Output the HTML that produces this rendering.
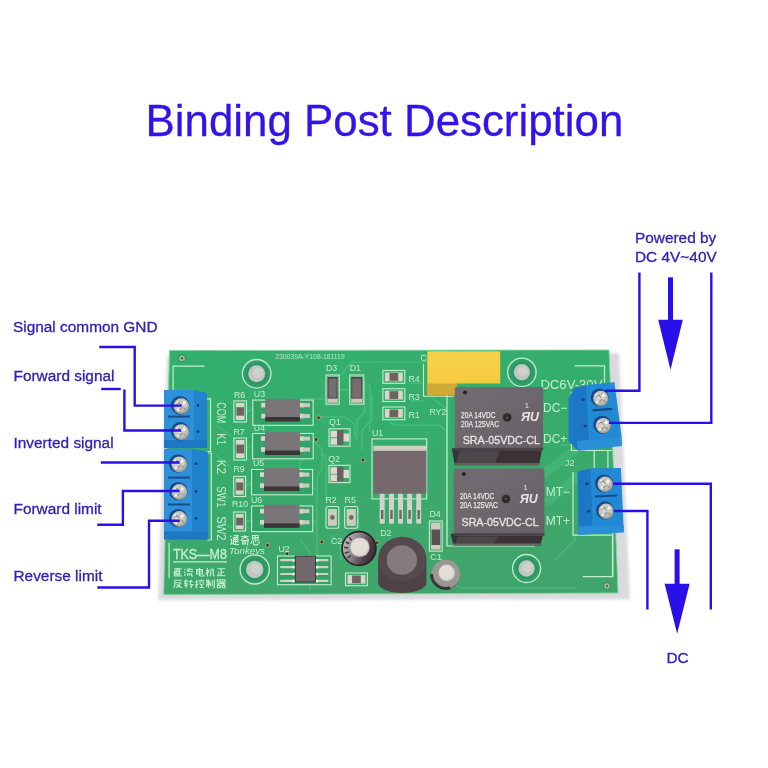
<!DOCTYPE html>
<html><head><meta charset="utf-8">
<style>
html,body{margin:0;padding:0;background:#fff;width:768px;height:768px;overflow:hidden}
svg{display:block;font-family:"Liberation Sans",sans-serif;will-change:transform}
</style></head><body>
<svg width="768" height="768" viewBox="0 0 768 768">
<defs>
  <radialGradient id="screw" cx="0.45" cy="0.4" r="0.65">
    <stop offset="0" stop-color="#e2e2dc"/>
    <stop offset="0.6" stop-color="#c2c2ba"/>
    <stop offset="1" stop-color="#8e8e88"/>
  </radialGradient>
  <linearGradient id="board" x1="0" y1="0" x2="0.3" y2="1">
    <stop offset="0" stop-color="#32b06e"/>
    <stop offset="0.6" stop-color="#38ab6c"/>
    <stop offset="1" stop-color="#41a56c"/>
  </linearGradient>
  <linearGradient id="relayTop" x1="0" y1="0" x2="1" y2="1">
    <stop offset="0" stop-color="#726c72"/>
    <stop offset="1" stop-color="#676168"/>
  </linearGradient>
  <linearGradient id="yellowTop" x1="0" y1="0" x2="0" y2="1">
    <stop offset="0" stop-color="#f9d24a"/>
    <stop offset="1" stop-color="#f5ca40"/>
  </linearGradient>
  <linearGradient id="c2sleeve" x1="0" y1="0.3" x2="1" y2="0.7">
    <stop offset="0" stop-color="#c4c0bf"/>
    <stop offset="0.4" stop-color="#8a7f84"/>
    <stop offset="0.75" stop-color="#4e3c44"/>
    <stop offset="1" stop-color="#3a2c32"/>
  </linearGradient>
  <radialGradient id="inductor" cx="0.5" cy="0.45" r="0.55">
    <stop offset="0" stop-color="#5a5455"/>
    <stop offset="1" stop-color="#3d3839"/>
  </radialGradient>
</defs>
<rect width="768" height="768" fill="#fff"/>

<text x="145.6" y="135.7" font-size="44.3" fill="#3412ea" stroke="#3412ea" stroke-width="0.3" textLength="477.7" lengthAdjust="spacingAndGlyphs">Binding Post Description</text>
<g font-size="15.4" fill="#2f22b4" stroke="#2f22b4" stroke-width="0.3">
<text x="13" y="332.4">Signal common GND</text>
<text x="13.5" y="381.4">Forward signal</text>
<text x="13.5" y="448">Inverted signal</text>
<text x="13.5" y="514.3">Forward limit</text>
<text x="13.5" y="581">Reverse limit</text>
<text x="635" y="242.6">Powered by</text>
<text x="635" y="261.6">DC 4V~40V</text>
<text x="666.5" y="663">DC</text>
</g>
<filter id="soft" x="-5%" y="-5%" width="110%" height="110%"><feGaussianBlur stdDeviation="0.45"/></filter>
<g filter="url(#soft)">
<filter id="blur" x="-10%" y="-10%" width="120%" height="120%"><feGaussianBlur stdDeviation="1.8"/></filter>
<polygon points="167,356 619,353 630,599.5 158,600" fill="#dadadd" filter="url(#blur)"/>
<polygon points="169.5,350.5 609,350 618,593 163.7,594.7" fill="url(#board)" stroke="#7fd49c" stroke-width="0.9"/>
<g fill="none" stroke="#4cc180" stroke-width="1.5" opacity="0.75" stroke-linejoin="round">
<path d="M340 376 L351.5 362 L428 362"/>
<path d="M364.7 381.5 L364.7 412.4 L357 420 L357 440"/>
<path d="M367.4 383 L370 386 L370 432"/>
<path d="M300 398.8 L326 398.8"/>
<path d="M339 389.7 L350 389.7"/>
<path d="M389.3 421.6 L394.8 425.2 L440 425.2 L447 432"/>
<path d="M318 417 L345.6 417 L354.7 425 L354.7 438"/>
<path d="M313 440 L322 449 L322 470 L317 476 L317 560 L322 568"/>
<path d="M321 453 L326 458 L326 500"/>
<path d="M312 486 L316 490"/>
<path d="M313 520 L317 524"/>
<path d="M216 425 L232 437"/>
<path d="M216 455 L232 468"/>
<path d="M216 488 L232 500"/>
<path d="M216 520 L232 528"/>
<path d="M246 412 L262 404"/>
<path d="M246 448 L262 440"/>
<path d="M246 486 L262 478"/>
<path d="M246 522 L262 514"/>
<path d="M362 450 L362 430 L372 420 L372 395"/>
<path d="M300 470 L300 462 L308 455"/>
<path d="M300 540 L310 552 L310 590"/>
<path d="M330 535 L340 543 L341 560"/>
<path d="M440 555 L445 575 L460 588 L575 588"/>
<path d="M430 395 L447 410 L447 546"/>
<path d="M410 383 L425 383"/>
<path d="M410 401 L425 401"/>
<path d="M560 445 L600 445"/>
<path d="M555 560 L575 540 L575 535"/>
<path d="M470 355 L420 355"/>
<path d="M543 474.5 L580.4 445.9" stroke-width="9" opacity="0.6"/>
<path d="M546 503 L580 474.5" stroke-width="9" opacity="0.6"/>
</g>
<g fill="none" stroke="#c4eecb" stroke-width="1.2">
<polyline points="204.4,366.1 173.1,366.1 173.1,392"/>
<polyline points="574.5,365.8 604.5,365.8 604.5,383"/>
<polyline points="582.7,576.7 612.8,576.7 612.8,532"/>
<polyline points="169.1,542.7 169.1,578.3"/>
<polyline points="173,561.9 227,561.9"/>
<polyline points="447,395 447,546 535,546"/>
<polyline points="571.4,392 571.4,450.5 612,450.5"/>
<polyline points="594.2,450.5 594.2,468"/>
<polyline points="607.9,450.5 607.9,468"/>
<polyline points="612.5,535.2 612.5,577"/>
<polyline points="206,398.8 210.5,398.8 210.5,451.5 206,451.5"/>
<polyline points="207,453 211.3,453 211.3,540 207,540"/>
<polyline points="573,472 573,535.2 612,535.2"/>
</g>
<circle cx="256.7" cy="373.8" r="14.5" fill="#309e68"/>
<circle cx="256.7" cy="373.8" r="14.3" fill="none" stroke="#c4eecb" stroke-width="1.3"/>
<circle cx="256.7" cy="373.8" r="10.7" fill="#2b9662"/>
<circle cx="256.7" cy="373.8" r="8.5" fill="#c2c6c0"/>
<circle cx="257.7" cy="372.8" r="5.1" fill="#ced2cb"/>
<circle cx="254.7" cy="569.4" r="14.799999999999999" fill="#309e68"/>
<circle cx="254.7" cy="569.4" r="14.6" fill="none" stroke="#c4eecb" stroke-width="1.3"/>
<circle cx="254.7" cy="569.4" r="10.95" fill="#2b9662"/>
<circle cx="254.7" cy="569.4" r="8.75" fill="#c2c6c0"/>
<circle cx="255.7" cy="568.4" r="5.25" fill="#ced2cb"/>
<circle cx="521.9" cy="372.3" r="14.399999999999999" fill="#309e68"/>
<circle cx="521.9" cy="372.3" r="14.2" fill="none" stroke="#c4eecb" stroke-width="1.3"/>
<circle cx="521.9" cy="372.3" r="10.399999999999999" fill="#2b9662"/>
<circle cx="521.9" cy="372.3" r="8.2" fill="#c2c6c0"/>
<circle cx="522.9" cy="371.3" r="4.919999999999999" fill="#ced2cb"/>
<circle cx="526.6" cy="568.5" r="14.2" fill="#309e68"/>
<circle cx="526.6" cy="568.5" r="14" fill="none" stroke="#c4eecb" stroke-width="1.3"/>
<circle cx="526.6" cy="568.5" r="10.399999999999999" fill="#2b9662"/>
<circle cx="526.6" cy="568.5" r="8.2" fill="#c2c6c0"/>
<circle cx="527.6" cy="567.5" r="4.919999999999999" fill="#ced2cb"/>
<circle cx="182" cy="358.3" r="3.8" fill="#2a9460"/>
<circle cx="182" cy="358.3" r="2.8" fill="#b8b79a"/>
<circle cx="182" cy="358.3" r="1.26" fill="#5a6a50"/>
<circle cx="607" cy="586" r="3.8" fill="#2a9460"/>
<circle cx="607" cy="586" r="2.8" fill="#b8b79a"/>
<circle cx="607" cy="586" r="1.26" fill="#5a6a50"/>
<circle cx="318.6" cy="417.7" r="2.4" fill="#9ea070"/><circle cx="318.6" cy="417.7" r="1.3" fill="#2c3a20"/>
<circle cx="316" cy="439.6" r="2.4" fill="#9ea070"/><circle cx="316" cy="439.6" r="1.3" fill="#2c3a20"/>
<circle cx="362.9" cy="459.9" r="2.4" fill="#9ea070"/><circle cx="362.9" cy="459.9" r="1.3" fill="#2c3a20"/>
<circle cx="321.8" cy="541.9" r="2.4" fill="#9ea070"/><circle cx="321.8" cy="541.9" r="1.3" fill="#2c3a20"/>
<circle cx="377.2" cy="542.7" r="2.4" fill="#9ea070"/><circle cx="377.2" cy="542.7" r="1.3" fill="#2c3a20"/>
<circle cx="267.5" cy="545.3" r="2.4" fill="#9ea070"/><circle cx="267.5" cy="545.3" r="1.3" fill="#2c3a20"/>
<circle cx="287.1" cy="553.9" r="2.4" fill="#9ea070"/><circle cx="287.1" cy="553.9" r="1.3" fill="#2c3a20"/>
<g fill="#c4eecb" font-size="8.8">
<text x="233.9" y="397.5">R6</text>
<text x="253.8" y="396.6">U3</text>
<text x="233.4" y="434.7">R7</text>
<text x="253.8" y="431.3">U4</text>
<text x="233.4" y="471.9">R9</text>
<text x="252.9" y="466.4">U5</text>
<text x="231.9" y="507.4">R10</text>
<text x="251" y="502.8">U6</text>
<text x="326" y="370.5">D3</text>
<text x="349.7" y="370.5">D1</text>
<text x="408.4" y="382.4">R4</text>
<text x="408.4" y="399.7">R3</text>
<text x="408.4" y="417.9">R1</text>
<text x="329.1" y="425.2">Q1</text>
<text x="328.2" y="461.7">Q2</text>
<text x="372" y="436.1">U1</text>
<text x="325.5" y="502.8">R2</text>
<text x="344.6" y="502.8">R5</text>
<text x="380.2" y="535.6">D2</text>
<text x="331" y="543.8">C2</text>
<text x="429.4" y="516.5">D4</text>
<text x="430.3" y="560.2">C1</text>
<text x="278.4" y="552">U2</text>
<text x="429.4" y="415.2">RY2</text>
<text x="565" y="466">J2</text>
</g>
<text x="275.2" y="359.4" font-size="6.4" fill="#c4eecb" opacity="0.9" textLength="69.5" lengthAdjust="spacingAndGlyphs">230039A-Y108-181119</text>
<g fill="#c4eecb" font-size="13.5">
<text transform="translate(216.5,402.2) rotate(90)" textLength="21" lengthAdjust="spacingAndGlyphs">COM</text>
<text transform="translate(216.5,433.2) rotate(90)" textLength="12.1" lengthAdjust="spacingAndGlyphs">K1</text>
<text transform="translate(216.5,459.7) rotate(90)" textLength="14.4" lengthAdjust="spacingAndGlyphs">K2</text>
<text transform="translate(216.5,486.3) rotate(90)" textLength="21" lengthAdjust="spacingAndGlyphs">SW1</text>
<text transform="translate(216.5,516.2) rotate(90)" textLength="24.3" lengthAdjust="spacingAndGlyphs">SW2</text>
</g>
<text x="172.9" y="559.2" font-size="14.8" fill="#c4eecb" stroke="#c4eecb" stroke-width="0.35" textLength="54" lengthAdjust="spacingAndGlyphs">TKS—M8</text>
<text x="229" y="553.5" font-size="9" font-style="italic" fill="#c4eecb" textLength="36" lengthAdjust="spacingAndGlyphs">Tonkeys</text>
<g fill="#c4eecb" font-size="12">
<text x="540.4" y="389" textLength="62" lengthAdjust="spacingAndGlyphs">DC6V-30V</text>
<text x="543" y="411.7">DC−</text>
<text x="543" y="443">DC+</text>
<text x="545.8" y="495.5">MT−</text>
<text x="545.8" y="524.7">MT+</text>
</g>
<path transform="translate(173.00,567.9) scale(0.960,0.860)" d="M1 1 H9 M5 0 V2 M3 2.5 H7 V8 H3 Z M3 4.3 H7 M3 6.2 H7 M1.5 3 V9.5 H9.5" fill="none" stroke="#c4eecb" stroke-width="1.20" vector-effect="none"/>
<path transform="translate(183.85,567.9) scale(0.960,0.860)" d="M0.5 1.5 L1.5 2.5 M0.3 4.5 L1.5 5.5 M0.5 9 L1.8 6.5 M5.5 0 V1.3 M3 1.5 H9.5 M5 2 L3.8 4 H8.5 L9 5 M4 6 V9.5 M6 6 V9 M8 6 V9 Q8 9.6 9.5 9.5" fill="none" stroke="#c4eecb" stroke-width="1.20" vector-effect="none"/>
<path transform="translate(194.70,567.9) scale(0.960,0.860)" d="M2 2 H8 V7 H2 Z M2 4.5 H8 M5 0 V8.5 Q5 9.5 6 9.5 H9.5 V8" fill="none" stroke="#c4eecb" stroke-width="1.20" vector-effect="none"/>
<path transform="translate(205.55,567.9) scale(0.960,0.860)" d="M0.3 3 H4 M2 0 V10 M2 3.5 L0.3 7.5 M2 3.5 L3.8 6 M5.5 1.5 H8 V8.5 Q8 9.5 9.5 9.5 M5.5 1.5 V6 Q5.5 8.5 4.3 9.8" fill="none" stroke="#c4eecb" stroke-width="1.20" vector-effect="none"/>
<path transform="translate(216.40,567.9) scale(0.960,0.860)" d="M1 1 H9 M5 1 V9 M5 5 H8 M2.5 4.5 V9 M0.5 9.2 H9.5" fill="none" stroke="#c4eecb" stroke-width="1.20" vector-effect="none"/>
<path transform="translate(173.00,579.4) scale(0.960,0.860)" d="M1.5 1 H9 M2 1 V5 Q2 8 0.5 9.8 M2 4 H8 Q7 7.5 3 9.8 M4 5.5 Q6 8.5 9.5 9.8" fill="none" stroke="#c4eecb" stroke-width="1.20" vector-effect="none"/>
<path transform="translate(183.85,579.4) scale(0.960,0.860)" d="M0.3 2 H4 M2.5 0 L1 5 H4 M2.5 3.5 V10 M0.3 7 H4.3 M5 2.5 H9.5 M7.5 0.5 L6.5 6 H9.3 L7.5 8 M6.5 8 L8.5 9.8" fill="none" stroke="#c4eecb" stroke-width="1.20" vector-effect="none"/>
<path transform="translate(194.70,579.4) scale(0.960,0.860)" d="M0.3 3 H3.8 M2 0.3 V9 Q2 10 1 9.5 M0.3 7 L3.8 5.5 M7 0 V1 M4.8 2.5 V1.5 H9.5 V2.5 M6.5 3 L5 5 M8 3 L9.5 5 M5.5 6.2 H9 M7.2 6.2 V9.5 M5 9.5 H9.7" fill="none" stroke="#c4eecb" stroke-width="1.20" vector-effect="none"/>
<path transform="translate(205.55,579.4) scale(0.960,0.860)" d="M0.5 2 H5 M1.5 0 L0.8 2 M0.5 4 H5.5 M3 0 V10 M1 5.5 V8.5 M1 5.5 H5 V8 M7 1 V8 M9.2 0 V9.5 Q9.2 10 8 9.8" fill="none" stroke="#c4eecb" stroke-width="1.20" vector-effect="none"/>
<path transform="translate(216.40,579.4) scale(0.960,0.860)" d="M1 0.5 H4 V3 H1 Z M6 0.5 H9 V3 H6 Z M0.3 5 H9.7 M5 3.5 L1 7 M5 3.5 L9 7 M7 3.5 L8 4.2 M1 7 H4 V9.8 H1 Z M6 7 H9 V9.8 H6 Z" fill="none" stroke="#c4eecb" stroke-width="1.20" vector-effect="none"/>
<path transform="translate(229.80,535) scale(0.940,1.000)" d="M4 0.5 H8.5 L7 2 M4 2.3 H8.5 V8 M4 2.3 V8.5 M4 4.3 H8.5 M4 6.3 H8.5 M6.2 2.3 V8.5 M0.5 0.8 L1.5 2 M0.3 4.5 H2 V8 L0.5 9.5 M2 8.5 Q4 9.8 9.8 9.5" fill="none" stroke="#c4eecb" stroke-width="1.22" vector-effect="none"/>
<path transform="translate(240.20,535) scale(0.940,1.000)" d="M1 1.5 H9 M5 0 V2 L1 4.5 M5 2 L9 4.5 M0.5 5.5 H9.5 M8 5.5 V9.5 Q8 10 7 9.8 M2.5 6.8 H5.5 V8.8 H2.5 Z" fill="none" stroke="#c4eecb" stroke-width="1.22" vector-effect="none"/>
<path transform="translate(250.60,535) scale(0.940,1.000)" d="M2 0.5 H8 V5 H2 Z M5 0.5 V5 M2 2.7 H8 M1 6 L0.5 9 M3 6 V9 Q3 9.8 4 9.8 H7.5 V8.5 M5 6 L6 7.5 M8.5 6 L9.5 8.5" fill="none" stroke="#c4eecb" stroke-width="1.22" vector-effect="none"/>
<rect x="233.9" y="400.9" width="12.599999999999994" height="21.100000000000023" fill="none" stroke="#c4eecb" stroke-width="1.1"/>
<rect x="235.9" y="402.9" width="8.599999999999994" height="17.100000000000023" fill="#d9d5c8"/>
<rect x="236.4" y="407.22999999999996" width="7.599999999999994" height="8.44000000000001" fill="#6f645e"/>
<rect x="233.9" y="438" width="12.599999999999994" height="22" fill="none" stroke="#c4eecb" stroke-width="1.1"/>
<rect x="235.9" y="440" width="8.599999999999994" height="18" fill="#d9d5c8"/>
<rect x="236.4" y="444.6" width="7.599999999999994" height="8.8" fill="#6f645e"/>
<rect x="233.7" y="476.4" width="11.900000000000006" height="20.100000000000023" fill="none" stroke="#c4eecb" stroke-width="1.1"/>
<rect x="235.7" y="478.4" width="7.900000000000006" height="16.100000000000023" fill="#d9d5c8"/>
<rect x="236.2" y="482.43" width="6.900000000000006" height="8.04000000000001" fill="#6f645e"/>
<rect x="233.7" y="512" width="11.900000000000006" height="19" fill="none" stroke="#c4eecb" stroke-width="1.1"/>
<rect x="235.7" y="514" width="7.900000000000006" height="15" fill="#d9d5c8"/>
<rect x="236.2" y="517.7" width="6.900000000000006" height="7.6000000000000005" fill="#6f645e"/>
<rect x="382.9" y="370.5" width="21.900000000000034" height="12.800000000000011" fill="none" stroke="#c4eecb" stroke-width="1.1"/>
<rect x="384.9" y="372.5" width="17.900000000000034" height="8.800000000000011" fill="#d9d5c8"/>
<rect x="389.46999999999997" y="373.0" width="8.760000000000014" height="7.800000000000011" fill="#6f645e"/>
<rect x="382.9" y="388.7" width="21.900000000000034" height="12.800000000000011" fill="none" stroke="#c4eecb" stroke-width="1.1"/>
<rect x="384.9" y="390.7" width="17.900000000000034" height="8.800000000000011" fill="#d9d5c8"/>
<rect x="389.46999999999997" y="391.2" width="8.760000000000014" height="7.800000000000011" fill="#6f645e"/>
<rect x="382.9" y="407" width="21.900000000000034" height="12.699999999999989" fill="none" stroke="#c4eecb" stroke-width="1.1"/>
<rect x="384.9" y="409" width="17.900000000000034" height="8.699999999999989" fill="#d9d5c8"/>
<rect x="389.46999999999997" y="409.5" width="8.760000000000014" height="7.699999999999989" fill="#6f645e"/>
<rect x="326" y="506.5" width="12.800000000000011" height="21.799999999999955" rx="2" fill="none" stroke="#c4eecb" stroke-width="1.1"/>
<rect x="328" y="509.0" width="8.800000000000011" height="16.799999999999955" fill="#cfcbbf"/>
<circle cx="332.4" cy="517.4" r="2.3" fill="#6d6a5e"/>
<rect x="344.6" y="506.5" width="13.199999999999989" height="21.799999999999955" rx="2" fill="none" stroke="#c4eecb" stroke-width="1.1"/>
<rect x="346.6" y="509.0" width="9.199999999999989" height="16.799999999999955" fill="#cfcbbf"/>
<circle cx="351.20000000000005" cy="517.4" r="2.3" fill="#6d6a5e"/>
<rect x="345.5" y="573" width="21.899999999999977" height="12.700000000000045" fill="none" stroke="#c4eecb" stroke-width="1.1"/>
<rect x="347.5" y="575" width="17.899999999999977" height="8.700000000000045" fill="#d9d5c8"/>
<rect x="352.07" y="575.5" width="8.759999999999991" height="7.7000000000000455" fill="#6f645e"/>
<rect x="326" y="375" width="13.199999999999989" height="29.19999999999999" fill="none" stroke="#c4eecb" stroke-width="1.1"/>
<rect x="327.5" y="376.5" width="10.199999999999989" height="26.19999999999999" fill="#cfcabb"/>
<rect x="327.5" y="377" width="10.199999999999989" height="21.60799999999999" fill="#4a4245"/>
<rect x="328.5" y="378.5" width="8.199999999999989" height="19.271999999999995" fill="#776d70"/>
<rect x="349.7" y="375" width="14.100000000000023" height="29.19999999999999" fill="none" stroke="#c4eecb" stroke-width="1.1"/>
<rect x="351.2" y="376.5" width="11.100000000000023" height="26.19999999999999" fill="#cfcabb"/>
<rect x="351.2" y="377" width="11.100000000000023" height="21.60799999999999" fill="#4a4245"/>
<rect x="352.2" y="378.5" width="9.100000000000023" height="19.271999999999995" fill="#776d70"/>
<rect x="429.4" y="521" width="12.8" height="30.1" fill="none" stroke="#c4eecb" stroke-width="1.1"/>
<rect x="431" y="522.6" width="9.6" height="26.9" fill="#cfcbbf"/>
<rect x="431.5" y="529.5" width="8.6" height="15.5" fill="#5a5054"/>
<rect x="329" y="428.8" width="21" height="17.399999999999977" fill="none" stroke="#c4eecb" stroke-width="1.1"/>
<rect x="330.5" y="430.8" width="8" height="6.5" fill="#dcd8cc"/>
<rect x="330.5" y="438.2" width="8" height="6.5" fill="#dcd8cc"/>
<rect x="343" y="433.5" width="6" height="8" fill="#dcd8cc"/>
<rect x="337" y="430.1" width="6.5" height="14.799999999999978" fill="#676163"/>
<rect x="329" y="465.3" width="21" height="17.30000000000001" fill="none" stroke="#c4eecb" stroke-width="1.1"/>
<rect x="330.5" y="467.3" width="8" height="6.5" fill="#dcd8cc"/>
<rect x="330.5" y="474.6" width="8" height="6.5" fill="#dcd8cc"/>
<rect x="343" y="469.95000000000005" width="6" height="8" fill="#dcd8cc"/>
<rect x="337" y="466.6" width="6.5" height="14.700000000000012" fill="#676163"/>
<rect x="252.79999999999998" y="400.1" width="60.29999999999999" height="25.19999999999999" fill="#30a266" stroke="#c4eecb" stroke-width="1.1"/>
<rect x="261.2" y="402.856" width="6" height="4.6" fill="#d6d6cc"/>
<rect x="297.9" y="402.856" width="6" height="4.6" fill="#d6d6cc"/>
<rect x="302.9" y="403.156" width="7" height="4" fill="#c9c9bf"/>
<rect x="261.2" y="413.752" width="6" height="4.6" fill="#d6d6cc"/>
<rect x="297.9" y="413.752" width="6" height="4.6" fill="#d6d6cc"/>
<rect x="302.9" y="414.052" width="7" height="4" fill="#c9c9bf"/>
<rect x="265.2" y="398.8" width="34.69999999999999" height="22.69999999999999" fill="#7a7477"/>
<rect x="265.2" y="417.0" width="34.69999999999999" height="4.5" fill="#3b3437"/>
<rect x="252.6" y="433.5" width="60.6" height="25.30000000000001" fill="#30a266" stroke="#c4eecb" stroke-width="1.1"/>
<rect x="261" y="436.284" width="6" height="4.6" fill="#d6d6cc"/>
<rect x="298" y="436.284" width="6" height="4.6" fill="#d6d6cc"/>
<rect x="303" y="436.584" width="7" height="4" fill="#c9c9bf"/>
<rect x="261" y="447.228" width="6" height="4.6" fill="#d6d6cc"/>
<rect x="298" y="447.228" width="6" height="4.6" fill="#d6d6cc"/>
<rect x="303" y="447.528" width="7" height="4" fill="#c9c9bf"/>
<rect x="265" y="432.2" width="35" height="22.80000000000001" fill="#7a7477"/>
<rect x="265" y="450.5" width="35" height="4.5" fill="#3b3437"/>
<rect x="251.6" y="469.5" width="60.99999999999998" height="25.30000000000001" fill="#30a266" stroke="#c4eecb" stroke-width="1.1"/>
<rect x="260" y="472.284" width="6" height="4.6" fill="#d6d6cc"/>
<rect x="297.4" y="472.284" width="6" height="4.6" fill="#d6d6cc"/>
<rect x="302.4" y="472.584" width="7" height="4" fill="#c9c9bf"/>
<rect x="260" y="483.228" width="6" height="4.6" fill="#d6d6cc"/>
<rect x="297.4" y="483.228" width="6" height="4.6" fill="#d6d6cc"/>
<rect x="302.4" y="483.528" width="7" height="4" fill="#c9c9bf"/>
<rect x="264" y="468.2" width="35.39999999999998" height="22.80000000000001" fill="#7a7477"/>
<rect x="264" y="486.5" width="35.39999999999998" height="4.5" fill="#3b3437"/>
<rect x="251.6" y="506.0" width="61.1" height="25.599999999999966" fill="#30a266" stroke="#c4eecb" stroke-width="1.1"/>
<rect x="260" y="508.868" width="6" height="4.6" fill="#d6d6cc"/>
<rect x="297.5" y="508.868" width="6" height="4.6" fill="#d6d6cc"/>
<rect x="302.5" y="509.168" width="7" height="4" fill="#c9c9bf"/>
<rect x="260" y="519.956" width="6" height="4.6" fill="#d6d6cc"/>
<rect x="297.5" y="519.956" width="6" height="4.6" fill="#d6d6cc"/>
<rect x="302.5" y="520.256" width="7" height="4" fill="#c9c9bf"/>
<rect x="264" y="504.7" width="35.5" height="23.099999999999966" fill="#7a7477"/>
<rect x="264" y="523.3" width="35.5" height="4.5" fill="#3b3437"/>
<rect x="277.5" y="556" width="53.6" height="28.7" fill="#30a266" stroke="#c4eecb" stroke-width="1.1"/>
<rect x="280" y="559.1" width="16" height="2.2" fill="#d0d0c6" rx="1"/><rect x="314" y="559.1" width="14.5" height="2.2" fill="#d0d0c6" rx="1"/>
<circle cx="293.5" cy="560.2" r="1.5" fill="#f0f0ea"/><circle cx="317" cy="560.2" r="1.5" fill="#f0f0ea"/>
<rect x="280" y="566.0" width="16" height="2.2" fill="#d0d0c6" rx="1"/><rect x="314" y="566.0" width="14.5" height="2.2" fill="#d0d0c6" rx="1"/>
<circle cx="293.5" cy="567.1" r="1.5" fill="#f0f0ea"/><circle cx="317" cy="567.1" r="1.5" fill="#f0f0ea"/>
<rect x="280" y="572.9" width="16" height="2.2" fill="#d0d0c6" rx="1"/><rect x="314" y="572.9" width="14.5" height="2.2" fill="#d0d0c6" rx="1"/>
<circle cx="293.5" cy="574.0" r="1.5" fill="#f0f0ea"/><circle cx="317" cy="574.0" r="1.5" fill="#f0f0ea"/>
<rect x="280" y="579.8000000000001" width="16" height="2.2" fill="#d0d0c6" rx="1"/><rect x="314" y="579.8000000000001" width="14.5" height="2.2" fill="#d0d0c6" rx="1"/>
<circle cx="293.5" cy="580.9000000000001" r="1.5" fill="#f0f0ea"/><circle cx="317" cy="580.9000000000001" r="1.5" fill="#f0f0ea"/>
<rect x="295.2" y="556" width="20.3" height="26" fill="#6f686b" stroke="#2e2a2b" stroke-width="0.8"/>
<rect x="372" y="438.9" width="54.7" height="60" fill="none" stroke="#c4eecb" stroke-width="1.1"/>
<rect x="373.4" y="445.7" width="53.4" height="5.5" fill="#cfcfc6"/>
<rect x="373.6" y="450.8" width="52.8" height="42.9" fill="#76696d"/>
<rect x="379.7" y="493.7" width="5" height="30" fill="#d3d2ca" rx="1"/>
<rect x="381.0" y="510" width="2.4" height="9" fill="#6a6660"/>
<rect x="389.0" y="493.7" width="5" height="30" fill="#d3d2ca" rx="1"/>
<rect x="390.3" y="510" width="2.4" height="9" fill="#6a6660"/>
<rect x="398.0" y="493.7" width="5" height="30" fill="#d3d2ca" rx="1"/>
<rect x="399.3" y="510" width="2.4" height="9" fill="#6a6660"/>
<rect x="407.1" y="493.7" width="5" height="30" fill="#d3d2ca" rx="1"/>
<rect x="408.40000000000003" y="510" width="2.4" height="9" fill="#6a6660"/>
<rect x="416.2" y="493.7" width="5" height="30" fill="#d3d2ca" rx="1"/>
<rect x="417.5" y="510" width="2.4" height="9" fill="#6a6660"/>
<circle cx="359" cy="548.5" r="16.9" fill="url(#c2sleeve)" stroke="#2a2226" stroke-width="1.6"/>
<line x1="350.7" y1="555.5" x2="347.6" y2="558.1" stroke="#3c3036" stroke-width="1.4"/>
<line x1="348.6" y1="551.9" x2="344.8" y2="553.1" stroke="#3c3036" stroke-width="1.4"/>
<line x1="348.1" y1="547.7" x2="344.1" y2="547.5" stroke="#3c3036" stroke-width="1.4"/>
<line x1="349.2" y1="543.7" x2="345.6" y2="542.0" stroke="#3c3036" stroke-width="1.4"/>
<line x1="351.7" y1="540.4" x2="349.0" y2="537.4" stroke="#3c3036" stroke-width="1.4"/>
<circle cx="359.8" cy="547.3" r="9.801999999999998" fill="#cfcac4"/>
<circle cx="359.5" cy="546.9" r="8.45" fill="#e2ddd6"/>
<circle cx="445.9" cy="575.6" r="14.4" fill="#6e6c68"/>
<circle cx="445.9" cy="574.1" r="14.4" fill="#9a9894"/>
<path d="M431.5 574.1 A14.4 14.4 0 0 0 450.21999999999997 587.78" fill="none" stroke="#3a3636" stroke-width="3"/>
<circle cx="446.7" cy="572.9" r="8.352" fill="#cfcac4"/>
<circle cx="446.4" cy="572.5" r="7.2" fill="#e2ddd6"/>
<path d="M378.2 559 L378.2 583 A24.1 10 0 0 0 426.4 583 L426.4 559 Z" fill="#4f4246"/>
<ellipse cx="402.3" cy="559" rx="24.1" ry="22.3" fill="#55484d"/>
<ellipse cx="401.9" cy="560" rx="15.2" ry="14.8" fill="#857a7d"/>
<polyline points="423.5,364 423.5,396.2 453.7,396.2" fill="none" stroke="#c4eecb" stroke-width="1.1"/>
<rect x="427" y="382" width="30" height="13.2" fill="#cfab35"/>
<text x="420.5" y="361" font-size="8.8" fill="#c4eecb">C</text>
<rect x="427.3" y="351.3" width="72.9" height="32.2" fill="url(#yellowTop)"/>
<polygon points="451.8,448.3 542.1,448.3 539.1,465.2 454.8,465.2" fill="#3a3336"/>
<polygon points="458.8,451.3 499.8,451.3 494.8,463.2 456.8,463.2" fill="#544b4f" opacity="0.8"/>
<rect x="454.8" y="463.2" width="84.30000000000001" height="1.6" fill="#6d6a66"/>
<rect x="454.8" y="387" width="88.30000000000001" height="63.30000000000001" fill="url(#relayTop)" rx="1.5"/>
<rect x="454.8" y="447.8" width="88.30000000000001" height="2.5" fill="#4a4246"/>
<circle cx="465.0" cy="392.5" r="2.1" fill="#2a2627"/>
<circle cx="507.2" cy="417.5" r="4.7" fill="#2f2b2c" stroke="#67625f" stroke-width="1"/>
<circle cx="507.2" cy="417.5" r="1" fill="#6a6464"/>
<g fill="#e6e3df">
<text x="461.1" y="417.8" font-size="8.2" stroke="#e6e3df" stroke-width="0.25" textLength="34.4" lengthAdjust="spacingAndGlyphs">20A 14VDC</text>
<text x="461.1" y="426.9" font-size="8.2" stroke="#e6e3df" stroke-width="0.25" textLength="37.9" lengthAdjust="spacingAndGlyphs">20A 125VAC</text>
<text x="462.7" y="444.4" font-size="11.8" stroke="#e6e3df" stroke-width="0.35" textLength="77.3" lengthAdjust="spacingAndGlyphs">SRA-05VDC-CL</text>
<text x="524.8" y="408.2" font-size="7.5">1</text>
<text x="521.0" y="421.4" font-size="13" font-weight="bold" font-style="italic" textLength="18" lengthAdjust="spacingAndGlyphs">ЯU</text>
</g>
<polygon points="450.6,533.7 543.4,533.7 540.4,545.5 453.6,545.5" fill="#3a3336"/>
<polygon points="457.6,536.7 498.6,536.7 493.6,543.5 455.6,543.5" fill="#544b4f" opacity="0.8"/>
<rect x="453.6" y="543.5" width="86.79999999999995" height="1.6" fill="#6d6a66"/>
<rect x="453.6" y="468.5" width="90.79999999999995" height="67.20000000000005" fill="url(#relayTop)" rx="1.5"/>
<rect x="453.6" y="533.2" width="90.79999999999995" height="2.5" fill="#4a4246"/>
<circle cx="463.8" cy="474.0" r="2.1" fill="#2a2627"/>
<circle cx="506.0" cy="499.0" r="4.7" fill="#2f2b2c" stroke="#67625f" stroke-width="1"/>
<circle cx="506.0" cy="499.0" r="1" fill="#6a6464"/>
<g fill="#e6e3df">
<text x="459.90000000000003" y="499.3" font-size="8.2" stroke="#e6e3df" stroke-width="0.25" textLength="34.4" lengthAdjust="spacingAndGlyphs">20A 14VDC</text>
<text x="459.90000000000003" y="508.4" font-size="8.2" stroke="#e6e3df" stroke-width="0.25" textLength="37.9" lengthAdjust="spacingAndGlyphs">20A 125VAC</text>
<text x="461.5" y="525.9" font-size="11.8" stroke="#e6e3df" stroke-width="0.35" textLength="77.3" lengthAdjust="spacingAndGlyphs">SRA-05VDC-CL</text>
<text x="523.6" y="489.7" font-size="7.5">1</text>
<text x="519.8000000000001" y="502.9" font-size="13" font-weight="bold" font-style="italic" textLength="18" lengthAdjust="spacingAndGlyphs">ЯU</text>
</g>
<rect x="164" y="390" width="30" height="58" fill="#2d90d8"/>
<polygon points="194,390 207,393 207,448 194,448" fill="#2283cd"/>
<rect x="164" y="440" width="43" height="8" fill="#1f78c2"/>
<circle cx="180.2" cy="405.2" r="9.2" fill="#164a86"/>
<circle cx="181.3" cy="406.1" r="7.8999999999999995" fill="url(#screw)"/>
<path d="M176.5 404.5 l3 -2 l2 3 M181.5 401.5 l3 3 M177.5 408.5 l3 1 l2 -3 M183.5 407.5 l2 2" stroke="#8c8c85" stroke-width="1.1" fill="none"/>
<circle cx="184.0" cy="403.0" r="1.7" fill="#ffffff" opacity="0.9"/>
<circle cx="178.0" cy="409.5" r="1.4" fill="#ffffff" opacity="0.85"/>
<circle cx="177.0" cy="402.5" r="1.1" fill="#f4f4f0" opacity="0.8"/>
<circle cx="198" cy="405.5" r="1.4" fill="#103d70"/>
<circle cx="180.2" cy="431.3" r="9.2" fill="#164a86"/>
<circle cx="181.3" cy="432.20000000000005" r="7.8999999999999995" fill="url(#screw)"/>
<path d="M176.5 430.6 l3 -2 l2 3 M181.5 427.6 l3 3 M177.5 434.6 l3 1 l2 -3 M183.5 433.6 l2 2" stroke="#8c8c85" stroke-width="1.1" fill="none"/>
<circle cx="184.0" cy="429.1" r="1.7" fill="#ffffff" opacity="0.9"/>
<circle cx="178.0" cy="435.6" r="1.4" fill="#ffffff" opacity="0.85"/>
<circle cx="177.0" cy="428.6" r="1.1" fill="#f4f4f0" opacity="0.8"/>
<circle cx="198" cy="431.6" r="1.4" fill="#103d70"/>
<rect x="168" y="415.6" width="22" height="2" fill="#174f8c"/>
<rect x="164" y="448.7" width="28" height="90.69999999999999" fill="#2d90d8"/>
<polygon points="192,448.7 208.2,451.7 208.2,539.4 192,539.4" fill="#2283cd"/>
<rect x="164" y="531.4" width="44.19999999999999" height="8" fill="#1f78c2"/>
<circle cx="178.2" cy="463.4" r="9.2" fill="#164a86"/>
<circle cx="179.3" cy="464.3" r="7.8999999999999995" fill="url(#screw)"/>
<path d="M174.5 462.7 l3 -2 l2 3 M179.5 459.7 l3 3 M175.5 466.7 l3 1 l2 -3 M181.5 465.7 l2 2" stroke="#8c8c85" stroke-width="1.1" fill="none"/>
<circle cx="182.0" cy="461.2" r="1.7" fill="#ffffff" opacity="0.9"/>
<circle cx="176.0" cy="467.7" r="1.4" fill="#ffffff" opacity="0.85"/>
<circle cx="175.0" cy="460.7" r="1.1" fill="#f4f4f0" opacity="0.8"/>
<circle cx="196" cy="463.7" r="1.4" fill="#103d70"/>
<circle cx="178.2" cy="491.09999999999997" r="9.2" fill="#164a86"/>
<circle cx="179.3" cy="492.0" r="7.8999999999999995" fill="url(#screw)"/>
<path d="M174.5 490.4 l3 -2 l2 3 M179.5 487.4 l3 3 M175.5 494.4 l3 1 l2 -3 M181.5 493.4 l2 2" stroke="#8c8c85" stroke-width="1.1" fill="none"/>
<circle cx="182.0" cy="488.9" r="1.7" fill="#ffffff" opacity="0.9"/>
<circle cx="176.0" cy="495.4" r="1.4" fill="#ffffff" opacity="0.85"/>
<circle cx="175.0" cy="488.4" r="1.1" fill="#f4f4f0" opacity="0.8"/>
<circle cx="196" cy="491.4" r="1.4" fill="#103d70"/>
<circle cx="178.2" cy="518.1" r="9.2" fill="#164a86"/>
<circle cx="179.3" cy="519.0" r="7.8999999999999995" fill="url(#screw)"/>
<path d="M174.5 517.4 l3 -2 l2 3 M179.5 514.4 l3 3 M175.5 521.4 l3 1 l2 -3 M181.5 520.4 l2 2" stroke="#8c8c85" stroke-width="1.1" fill="none"/>
<circle cx="182.0" cy="515.9" r="1.7" fill="#ffffff" opacity="0.9"/>
<circle cx="176.0" cy="522.4" r="1.4" fill="#ffffff" opacity="0.85"/>
<circle cx="175.0" cy="515.4" r="1.1" fill="#f4f4f0" opacity="0.8"/>
<circle cx="196" cy="518.4" r="1.4" fill="#103d70"/>
<rect x="168" y="476.6" width="22" height="2" fill="#174f8c"/>
<rect x="168" y="503.5" width="22" height="2" fill="#174f8c"/>
<polygon points="568.5,399 573.7,388.5 586.3,384.9 589.4,442.7 576.9,450 568.5,441" fill="#1b78c6"/>
<polygon points="586.3,384.9 614.4,382.3 621.7,437.5 589.4,442.7" fill="#2189d5"/>
<polygon points="576.9,441 621.7,437.5 622,446 578,451" fill="#2a8fd6"/>
<circle cx="599.7" cy="397.59999999999997" r="9.0" fill="#164a86"/>
<circle cx="600.8" cy="398.5" r="7.7" fill="url(#screw)"/>
<path d="M596 396.9 l3 -2 l2 3 M601 393.9 l3 3 M597 400.9 l3 1 l2 -3 M603 399.9 l2 2" stroke="#8c8c85" stroke-width="1.1" fill="none"/>
<circle cx="603.5" cy="395.4" r="1.7" fill="#ffffff" opacity="0.9"/>
<circle cx="597.5" cy="401.9" r="1.4" fill="#ffffff" opacity="0.85"/>
<circle cx="596.5" cy="394.9" r="1.1" fill="#f4f4f0" opacity="0.8"/>
<circle cx="602.3000000000001" cy="424.7" r="9.0" fill="#164a86"/>
<circle cx="603.4" cy="425.6" r="7.7" fill="url(#screw)"/>
<path d="M598.6 424 l3 -2 l2 3 M603.6 421 l3 3 M599.6 428 l3 1 l2 -3 M605.6 427 l2 2" stroke="#8c8c85" stroke-width="1.1" fill="none"/>
<circle cx="606.1" cy="422.5" r="1.7" fill="#ffffff" opacity="0.9"/>
<circle cx="600.1" cy="429" r="1.4" fill="#ffffff" opacity="0.85"/>
<circle cx="599.1" cy="422" r="1.1" fill="#f4f4f0" opacity="0.8"/>
<path d="M592.5 410.4 L612.3 408.9" stroke="#16498a" stroke-width="2.2"/>
<ellipse cx="583.1" cy="399.5" rx="1.8" ry="1.3" fill="#123d72"/>
<ellipse cx="585.2" cy="426" rx="1.8" ry="1.3" fill="#123d72"/>
<polygon points="577.6,471.4 591,468.5 593,532.5 578.5,535" fill="#1b78c6"/>
<polygon points="591,468.5 620.9,467.9 623.8,532.3 593,532.5" fill="#2189d5"/>
<polygon points="578.5,526 623.8,525 623.8,532.3 578.5,535" fill="#2a8fd6"/>
<circle cx="604.1" cy="483.4" r="9.0" fill="#164a86"/>
<circle cx="605.1999999999999" cy="484.3" r="7.7" fill="url(#screw)"/>
<path d="M600.4 482.7 l3 -2 l2 3 M605.4 479.7 l3 3 M601.4 486.7 l3 1 l2 -3 M607.4 485.7 l2 2" stroke="#8c8c85" stroke-width="1.1" fill="none"/>
<circle cx="607.9" cy="481.2" r="1.7" fill="#ffffff" opacity="0.9"/>
<circle cx="601.9" cy="487.7" r="1.4" fill="#ffffff" opacity="0.85"/>
<circle cx="600.9" cy="480.7" r="1.1" fill="#f4f4f0" opacity="0.8"/>
<circle cx="605.1" cy="510.3" r="9.0" fill="#164a86"/>
<circle cx="606.1999999999999" cy="511.20000000000005" r="7.7" fill="url(#screw)"/>
<path d="M601.4 509.6 l3 -2 l2 3 M606.4 506.6 l3 3 M602.4 513.6 l3 1 l2 -3 M608.4 512.6 l2 2" stroke="#8c8c85" stroke-width="1.1" fill="none"/>
<circle cx="608.9" cy="508.1" r="1.7" fill="#ffffff" opacity="0.9"/>
<circle cx="602.9" cy="514.6" r="1.4" fill="#ffffff" opacity="0.85"/>
<circle cx="601.9" cy="507.6" r="1.1" fill="#f4f4f0" opacity="0.8"/>
<path d="M595 496.5 L617 495.5" stroke="#16498a" stroke-width="2.2"/>
<ellipse cx="587" cy="483.7" rx="1.8" ry="1.3" fill="#123d72"/>
<ellipse cx="588.5" cy="511.2" rx="1.8" ry="1.3" fill="#123d72"/>
</g>
<g fill="none" stroke="#2a10e8" stroke-width="2.4">
<polyline points="99.3,347 134.7,347 134.7,405.6 181.7,405.6"/>
<polyline points="101.2,389 120.8,389"/>
<polyline points="124.4,389.4 124.4,430.5 181,430.5"/>
<polyline points="100.8,462.5 179.6,462.5"/>
<polyline points="97.3,524.8 122.9,524.8 122.9,491 179.6,491"/>
<polyline points="97.3,587.5 149,587.5 149,520.8 179.6,520.8"/>
<polyline points="639.4,272.4 639.4,390.8 605,390.8"/>
<polyline points="711.3,272.4 711.3,422.9 609,422.9"/>
<polyline points="613,483.7 710.8,483.7 710.8,609.6"/>
<polyline points="613.5,511 647.4,511 647.4,609.6"/>
</g>
<g fill="#2a10e8"><rect x="668" y="277.3" width="5" height="44"/><polygon points="658.2,319.8 682.8,319.8 670.5,369.8"/><rect x="674.6" y="549.3" width="5" height="36"/><polygon points="664.6,583.7 689.6,583.7 677.1,633.8"/></g>
</svg></body></html>
